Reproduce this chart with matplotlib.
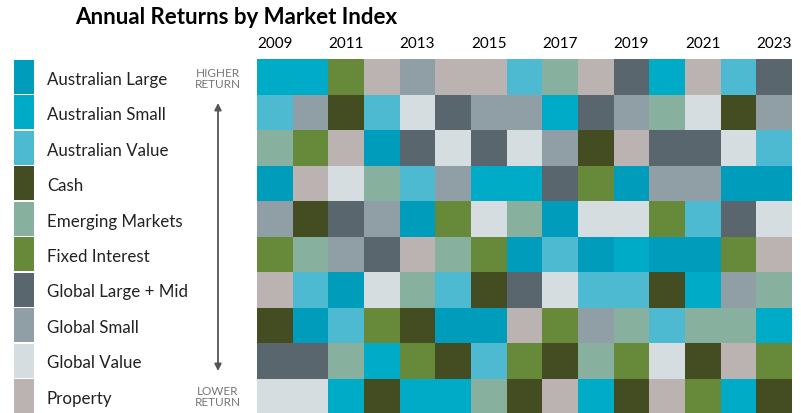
import matplotlib.pyplot as plt
import numpy as np
from matplotlib.colors import ListedColormap

# Categories and their colours
categories = ['Australian Large', 'Australian Small', 'Australian Value', 'Cash',
              'Emerging Markets', 'Fixed Interest', 'Global Large + Mid',
              'Global Small', 'Global Value', 'Property']
codes = ['AL', 'AS', 'AV', 'C', 'EM', 'FI', 'GL', 'GS', 'GV', 'P']
colors = ['#009cbb', '#00abc7', '#4dbad2', '#444d21', '#87b09e',
          '#668a3a', '#5a666e', '#909ea6', '#d6dde0', '#bbb3b1']

years = list(range(2009, 2024))

# Ranking per year, highest return first
y2009 = ['AS', 'AV', 'EM', 'AL', 'GS', 'FI', 'P', 'C', 'GL', 'GV']
y2010 = ['AS', 'GS', 'FI', 'P', 'C', 'EM', 'AV', 'AL', 'GL', 'GV']
y2011 = ['FI', 'C', 'P', 'GV', 'GL', 'GS', 'AL', 'AV', 'EM', 'AS']
y2012 = ['P', 'AV', 'AL', 'EM', 'GS', 'GL', 'GV', 'FI', 'AS', 'C']
y2013 = ['GS', 'GV', 'GL', 'AV', 'AL', 'P', 'EM', 'C', 'FI', 'AS']
y2014 = ['P', 'GL', 'GV', 'GS', 'FI', 'EM', 'AV', 'AL', 'C', 'AS']
y2015 = ['P', 'GS', 'GL', 'AS', 'GV', 'FI', 'C', 'AL', 'AV', 'EM']
y2016 = ['AV', 'GS', 'GV', 'AS', 'EM', 'AL', 'GL', 'P', 'FI', 'C']
y2017 = ['EM', 'AS', 'GS', 'GL', 'AL', 'AV', 'GV', 'FI', 'C', 'P']
y2018 = ['P', 'GL', 'C', 'FI', 'GV', 'AL', 'AV', 'GS', 'EM', 'AS']
y2019 = ['GL', 'GS', 'P', 'AL', 'GV', 'AS', 'AV', 'EM', 'FI', 'C']
y2020 = ['AS', 'EM', 'GL', 'GS', 'FI', 'AL', 'C', 'AV', 'GV', 'P']
y2021 = ['P', 'GV', 'GL', 'GS', 'AV', 'AL', 'AS', 'EM', 'C', 'FI']
y2022 = ['AV', 'C', 'GV', 'AL', 'GL', 'FI', 'GS', 'EM', 'P', 'AS']
y2023 = ['GL', 'GS', 'AV', 'AL', 'GV', 'P', 'EM', 'AS', 'FI', 'C']

rankings = [y2009, y2010, y2011, y2012, y2013, y2014, y2015, y2016,
            y2017, y2018, y2019, y2020, y2021, y2022, y2023]

grid = np.array([[codes.index(c) for c in col] for col in rankings]).T
cmap = ListedColormap(colors)

W, H = 801, 414
fig = plt.figure(figsize=(W / 100, H / 100), dpi=100)

def px_axes(x0, y0, x1, y1):
    return fig.add_axes([x0 / W, 1 - y1 / H, (x1 - x0) / W, (y1 - y0) / H])

# Main grid
ax = px_axes(257, 60, 792, 415)
ax.pcolormesh(grid, cmap=cmap, vmin=-0.5, vmax=9.5)
ax.set_xlim(0, 15)
ax.set_ylim(10, 0)
ax.axis('off')

# Year labels
for i, y in enumerate(years):
    if i % 2 == 0:
        ax.text(i + 0.5, -0.45, str(y), ha='center', va='center',
                fontsize=11, family='Lato')

# Legend swatches
lax = px_axes(14, 60, 34, 415)
lax.barh(np.arange(10) + 0.5, [1] * 10, height=0.97, color=colors, left=0)
lax.set_xlim(0, 1)
lax.set_ylim(10, 0)
lax.axis('off')
for i, name in enumerate(categories):
    fig.text(47 / W, 1 - (60 + 35.5 * i + 19.5) / H, name, ha='left', va='center',
             fontsize=12.2, family='Lato', color='#222222')

# Arrow and labels
fig.text(218 / W, 1 - 79 / H, 'HIGHER\nRETURN', ha='center', va='center',
         fontsize=8.5, family='Lato', color='#777777', linespacing=1.05)
fig.text(218 / W, 1 - 397 / H, 'LOWER\nRETURN', ha='center', va='center',
         fontsize=8.5, family='Lato', color='#777777', linespacing=1.05)
fig.add_artist(plt.Annotation('', xy=(218 / W, 1 - 372 / H), xytext=(218 / W, 1 - 104 / H),
                              xycoords='figure fraction',
                              arrowprops=dict(arrowstyle='<|-|>', color='#555555',
                                              lw=1.3, mutation_scale=10,
                                              shrinkA=0, shrinkB=0)))

# Title
fig.text(75 / W, 1 - 18 / H, 'Annual Returns by Market Index', ha='left', va='center',
         fontsize=16, fontweight='bold', family='Lato')

fig.savefig('out.png', dpi=100)
